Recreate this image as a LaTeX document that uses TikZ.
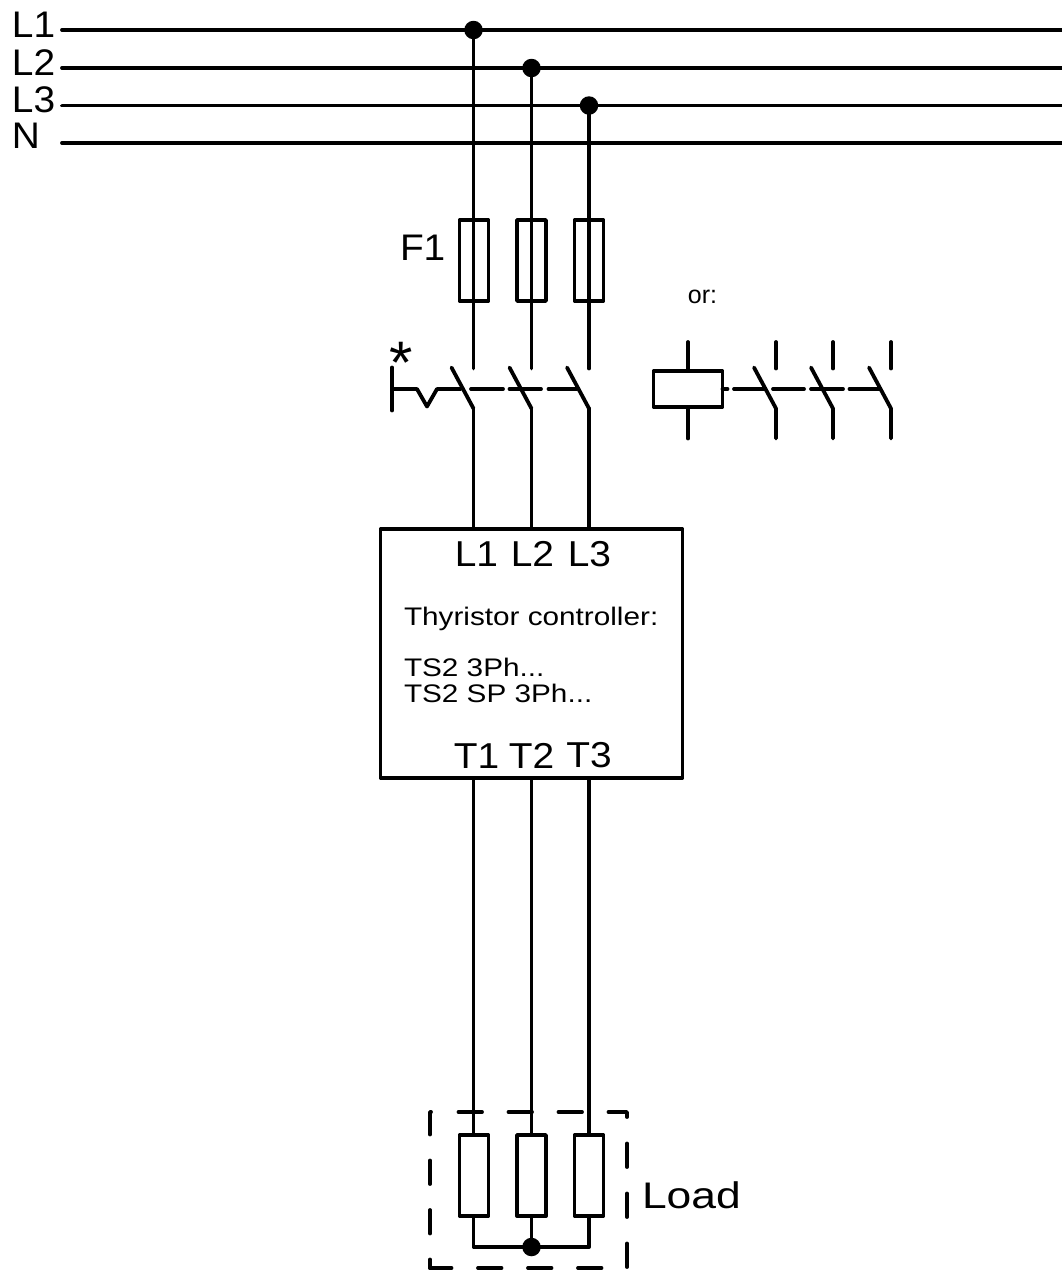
\documentclass[tikz,border=0pt]{standalone}
\usepackage{fontspec}
\setmainfont{Liberation Sans}
\newfontfamily\stretchA[FakeStretch=1.05]{Liberation Sans}
\newfontfamily\stretchB[FakeStretch=1.08]{Liberation Sans}
\newfontfamily\stretchC[FakeStretch=1.17]{Liberation Sans}
\newfontfamily\stretchD[FakeStretch=1.2]{Liberation Sans}
\newcommand{\bigtxt}{\stretchA\fontsize{37}{37}\selectfont}
\newcommand{\boxtxt}{\stretchB\fontsize{36}{36}\selectfont}
\newcommand{\midtxt}{\stretchC\fontsize{25.4}{25}\selectfont}
\newcommand{\loadtxt}{\stretchD\fontsize{37}{37}\selectfont}
\begin{document}
\begin{tikzpicture}[x=1pt,y=-1pt,line width=3.8pt,line cap=round,line join=round,
  lbl/.style={anchor=base west,inner sep=0pt,outer sep=0pt,font=\bigtxt},
  clbl/.style={anchor=base,inner sep=0pt,outer sep=0pt,font=\boxtxt},
  mlbl/.style={anchor=base west,inner sep=0pt,outer sep=0pt,font=\midtxt},
  dot/.style={circle,fill=black,draw=none,minimum size=18.5pt,inner sep=0pt,outer sep=0pt},
  elem/.style={draw,rectangle,minimum width=29pt,minimum height=81pt,inner sep=0pt,outer sep=0pt},
  dashbox/.style={dash pattern=on 23.5pt off 26.5pt}]
\useasboundingbox (0,0) rectangle (1062,1270);
% bus bars
\foreach \n/\y in {L1/30,L2/68,L3/105.5,N/143}{
  \coordinate (\n a) at (62,\y);
  \coordinate (\n b) at (1062,\y);
  \draw (\n a) -- (\n b);
}
\node[lbl] (lblL1) at (12,37) {L1};
\node[lbl] (lblL2) at (12,75) {L2};
\node[lbl] (lblL3) at (12,112) {L3};
\node[lbl] (lblN) at (12,148) {N};
% junctions
\node[dot] (j1) at (473.5,30) {};
\node[dot] (j2) at (531.5,68) {};
\node[dot] (j3) at (589,105.5) {};
% fuses
\node[elem] (f1) at (474,260.5) {};
\node[elem] (f2) at (531.5,260.5) {};
\node[elem] (f3) at (589,260.5) {};
\node[lbl] (lblF) at (400,260) {F1};
% breaker contacts
\foreach \i/\x/\bx in {1/473.5/451.5,2/531.5/509.5,3/589/567}{
  \coordinate (up\i) at (\x,368.5);
  \coordinate (lo\i) at (\x,408.5);
  \coordinate (bl\i) at (\bx,367.5);
  \draw (bl\i) -- (lo\i);
}
\draw (j1) -- (up1);
\draw (j2) -- (up2);
\draw (j3) -- (up3);
% controller
\node[draw,rectangle,minimum width=302pt,minimum height=249pt,inner sep=0pt,outer sep=0pt] (ctl) at (531.5,653.5) {};
\coordinate (cin1) at (473.5,529);
\coordinate (cin2) at (531.5,529);
\coordinate (cin3) at (589,529);
\coordinate (cout1) at (473.5,778);
\coordinate (cout2) at (531.5,778);
\coordinate (cout3) at (589,778);
\draw (lo1) -- (cin1);
\draw (lo2) -- (cin2);
\draw (lo3) -- (cin3);
\node[clbl] (cL1) at (476.5,566) {L1};
\node[clbl] (cL2) at (532.5,566) {L2};
\node[clbl] (cL3) at (589.5,566) {L3};
\node[clbl] (cT1) at (476.5,768.5) {T1};
\node[clbl] (cT2) at (531.5,768.5) {T2};
\node[clbl] (cT3) at (589,767) {T3};
\node[mlbl] (ctitle) at (404,625) {Thyristor controller:};
\node[mlbl] (cts1) at (404,676.5) {TS2 3Ph...};
\node[mlbl] (cts2) at (404,702) {TS2 SP 3Ph...};
% breaker actuator
\coordinate (b1) at (392,367.5);
\coordinate (b2) at (392,410.5);
\coordinate (b3) at (392,389);
\coordinate (z1) at (417,389);
\coordinate (z2) at (427,406.5);
\coordinate (z3) at (437,389);
\coordinate (z4) at (461,389);
\coordinate (k1) at (471,389);
\coordinate (k2) at (503,389);
\coordinate (k3) at (509.5,389);
\coordinate (k4) at (541,389);
\coordinate (k5) at (548.5,389);
\coordinate (k6) at (576.5,389);
\draw (b1) -- (b2);
\draw (b3) -- (z1) -- (z2) -- (z3) -- (z4);
\draw (k1) -- (k2);
\draw (k3) -- (k4);
\draw (k5) -- (k6);
\node[anchor=base,inner sep=0pt,font=\fontsize{60}{60}\selectfont] (star) at (401,383) {*};
% relay alternative
\node[anchor=base,inner sep=0pt,font=\fontsize{25}{25}\selectfont] (orlbl) at (702.5,303) {or:};
\node[draw,rectangle,minimum width=69pt,minimum height=36pt,inner sep=0pt,outer sep=0pt] (rel) at (688,389) {};
\coordinate (rt) at (688,342);
\coordinate (rb) at (688,438.5);
\draw (rt) -- (rel.north);
\draw (rel.south) -- (rb);
\coordinate (rs) at (727.5,389);
\draw (rel.east) -- (rs);
\foreach \i/\x/\bx in {1/776/754,2/833/811,3/891/869}{
  \coordinate (rup\i) at (\x,342);
  \coordinate (rmu\i) at (\x,368.5);
  \coordinate (rlo\i) at (\x,408.5);
  \coordinate (rbo\i) at (\x,438.5);
  \coordinate (rbl\i) at (\bx,367.5);
  \draw (rup\i) -- (rmu\i);
  \draw (rbl\i) -- (rlo\i) -- (rbo\i);
}
\foreach \i/\a/\b in {1/734/765,2/773/804,3/811/843,4/849.5/880}{
  \coordinate (ra\i) at (\a,389);
  \coordinate (rc\i) at (\b,389);
  \draw (ra\i) -- (rc\i);
}
% load
\node[elem] (r1) at (474,1175.5) {};
\node[elem] (r2) at (531.5,1175.5) {};
\node[elem] (r3) at (589,1175.5) {};
\draw (cout1) -- (r1.north -| cout1);
\draw (cout2) -- (r2.north);
\draw (cout3) -- (r3.north);
\node[dot] (star0) at (531.5,1247) {};
\coordinate (s1) at (473.5,1247);
\coordinate (s3) at (589,1247);
\draw (r1.south -| s1) -- (s1) -- (s3) -- (r3.south);
\draw (r2.south) -- (star0);
% dashed enclosure
\coordinate (dA) at (458.5,1112);
\coordinate (dB) at (627,1112);
\coordinate (dC) at (627,1268);
\coordinate (dD) at (430,1268);
\coordinate (dE) at (430,1112);
\coordinate (dF) at (435,1112);
\draw[dashbox] (dA) -- (dB) -- (dC) -- (dD);
\draw[dash pattern=on 23.5pt off 26pt,dash phase=15pt] (dD) -- (dE) -- (dF);
\node[lbl,font=\loadtxt] (lblLoad) at (642,1208) {Load};
\end{tikzpicture}
\end{document}
